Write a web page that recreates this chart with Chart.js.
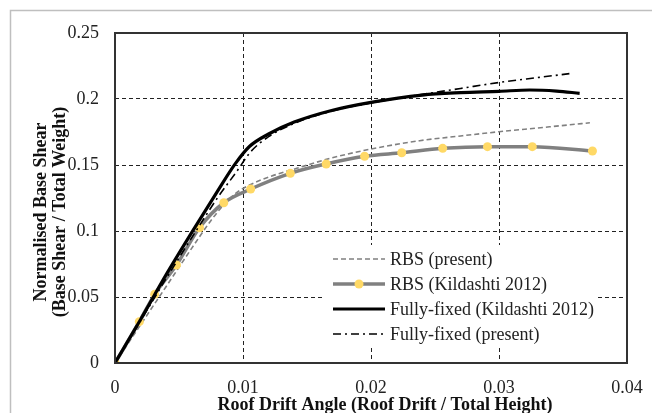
<!DOCTYPE html>
<html>
<head>
<meta charset="utf-8">
<script src="https://cdn.jsdelivr.net/npm/chart.js@4.4.1/dist/chart.umd.min.js"></script>
<style>
  html, body { margin: 0; padding: 0; background: #fff; }
  #wrap { width: 652px; height: 413px; position: relative; }
</style>
</head>
<body>
<div id="wrap"><canvas id="c" width="652" height="413"></canvas></div>
<script>
// ---- Data ----
const seriesNames = ['RBS (present)', 'RBS (Kildashti 2012)', 'Fully-fixed (Kildashti 2012)', 'Fully-fixed (present)'];

const rbsPresentX = [0, 0.002, 0.004, 0.006, 0.0075, 0.0086, 0.0095, 0.0105, 0.0122, 0.0142, 0.0168, 0.0199, 0.0238, 0.027, 0.030, 0.0335, 0.0371];
const rbsPresentY = [0, 0.029, 0.058, 0.087, 0.108, 0.121, 0.129, 0.1348, 0.1415, 0.1475, 0.155, 0.1619, 0.1684, 0.172, 0.1752, 0.1785, 0.182];

const rbsKildX = [0, 0.0019, 0.0031, 0.0048, 0.0066, 0.0085, 0.0106, 0.0137, 0.0165, 0.0195, 0.0224, 0.0256, 0.0291, 0.0326, 0.0373];
const rbsKildY = [0, 0.0313, 0.052, 0.0742, 0.1025, 0.1214, 0.1318, 0.1437, 0.1508, 0.1566, 0.1593, 0.1626, 0.1639, 0.1639, 0.1606];

const ffKildX = [0, 0.002, 0.004, 0.006, 0.008, 0.0094, 0.0105, 0.012, 0.014, 0.017, 0.020, 0.024, 0.027, 0.030, 0.0324, 0.0345, 0.0363];
const ffKildY = [0, 0.033, 0.067, 0.099, 0.130, 0.151, 0.164, 0.1735, 0.1825, 0.1915, 0.1975, 0.2030, 0.2048, 0.2058, 0.2068, 0.2060, 0.2043];

const ffPresX = [0, 0.002, 0.004, 0.006, 0.008, 0.0095, 0.0106, 0.012, 0.014, 0.017, 0.020, 0.024, 0.027, 0.030, 0.033, 0.0355];
const ffPresY = [0, 0.032, 0.064, 0.095, 0.125, 0.145, 0.160, 0.1715, 0.1815, 0.1910, 0.1970, 0.2035, 0.2080, 0.2125, 0.2162, 0.2192];

const xTicks = [0, 0.01, 0.02, 0.03, 0.04];
const xTickLabels = ['0', '0.01', '0.02', '0.03', '0.04'];
const yTicks = [0, 0.05, 0.1, 0.15, 0.2, 0.25];
const yTickLabels = ['0', '0.05', '0.1', '0.15', '0.2', '0.25'];

const xTitle = 'Roof Drift Angle (Roof Drift / Total Height)';
const yTitle = ['Normalised Base Shear', '(Base Shear / Total Weight)'];

// ---- Helpers ----
function pts(xs, ys) { return xs.map((x, i) => ({ x: x, y: ys[i] })); }
function labelFor(values, labels, v) {
  for (let i = 0; i < values.length; i++) if (Math.abs(values[i] - v) < 1e-9) return labels[i];
  return '';
}

const SERIF = "'Liberation Serif', 'Times New Roman', serif";
const GRAY = '#808080';
const YELLOW = '#FFD966';

const styles = [
  { borderColor: GRAY, borderWidth: 1.6, borderDash: [5, 3], pointRadius: 0 },
  { borderColor: GRAY, borderWidth: 3.5, pointRadius: 4.5, pointBackgroundColor: YELLOW, pointBorderWidth: 0 },
  { borderColor: '#000', borderWidth: 3.2, pointRadius: 0 },
  { borderColor: '#000', borderWidth: 1.6, borderDash: [8, 4, 2, 4], pointRadius: 0 }
];

const datasets = [
  pts(rbsPresentX, rbsPresentY),
  pts(rbsKildX, rbsKildY),
  pts(ffKildX, ffKildY),
  pts(ffPresX, ffPresY)
].map((d, i) => Object.assign({
  label: seriesNames[i],
  data: d,
  showLine: true,
  fill: false,
  cubicInterpolationMode: 'monotone',
  pointHoverRadius: 0,
  order: [3, 2, 0, 1][i]
}, styles[i]));

// Outer frame + plot frame + custom legend + axis titles
const framePlugin = {
  id: 'frames',
  beforeDraw(chart) {
    const ctx = chart.ctx;
    ctx.save();
    ctx.fillStyle = '#fff';
    ctx.fillRect(0, 0, chart.width, chart.height);
    ctx.strokeStyle = '#bfbfbf';
    ctx.lineWidth = 1.5;
    ctx.strokeRect(10.5, 10.5, 800, 600);
    ctx.restore();
  },
  afterDatasetsDraw(chart) {
    const ctx = chart.ctx;
    const a = chart.chartArea;
    ctx.save();
    // legend box
    const bx = 323, by = 245, bw = 272, bh = 103;
    ctx.fillStyle = '#fff';
    ctx.fillRect(bx, by, bw, bh);
    const rows = [259, 284, 309, 334];
    const x0 = 333, x1 = 385;
    ctx.font = '18px ' + SERIF;
    ctx.textBaseline = 'middle';
    ctx.textAlign = 'left';
    rows.forEach((y, i) => {
      const s = styles[i];
      ctx.beginPath();
      ctx.setLineDash(s.borderDash || []);
      ctx.strokeStyle = s.borderColor;
      ctx.lineWidth = s.borderWidth;
      ctx.moveTo(x0, y);
      ctx.lineTo(x1, y);
      ctx.stroke();
      ctx.setLineDash([]);
      if (s.pointRadius) {
        ctx.beginPath();
        ctx.fillStyle = YELLOW;
        ctx.arc((x0 + x1) / 2, y, s.pointRadius, 0, Math.PI * 2);
        ctx.fill();
      }
      ctx.fillStyle = '#222';
      ctx.fillText(seriesNames[i], 390, y + 1);
    });
    // plot frame
    ctx.setLineDash([]);
    ctx.strokeStyle = '#333';
    ctx.lineWidth = 2;
    ctx.strokeRect(a.left, a.top, a.right - a.left, a.bottom - a.top);
    ctx.restore();
  },
  afterDraw(chart) {
    const ctx = chart.ctx;
    ctx.save();
    ctx.fillStyle = '#111';
    ctx.font = 'bold 18px ' + SERIF;
    ctx.textAlign = 'center';
    ctx.textBaseline = 'middle';
    ctx.fillText(xTitle, 385, 405);
    ctx.translate(0, 212);
    ctx.rotate(-Math.PI / 2);
    ctx.fillText(yTitle[0], 0, 41);
    ctx.fillText(yTitle[1], 0, 60);
    ctx.restore();
  }
};

new Chart(document.getElementById('c'), {
  type: 'scatter',
  data: { datasets: datasets },
  options: {
    responsive: false,
    animation: false,
    events: [],
    layout: { autoPadding: false, padding: { left: 0, top: 33, right: 25, bottom: 0 } },
    plugins: { legend: { display: false }, tooltip: { enabled: false } },
    scales: {
      x: {
        type: 'linear',
        min: 0, max: 0.04,
        afterFit(s) { s.height = 50; s.paddingLeft = 0; s.paddingRight = 0; },
        afterBuildTicks(s) { s.ticks = xTicks.map(v => ({ value: v })); },
        ticks: {
          padding: 14,
          maxRotation: 0,
          autoSkip: false,
          color: '#222',
          font: { family: SERIF, size: 18 },
          callback: v => labelFor(xTicks, xTickLabels, v)
        },
        grid: { color: '#222', lineWidth: 1, drawTicks: false },
        border: { display: false, dash: [4, 3] },
        title: { display: false }
      },
      y: {
        type: 'linear',
        min: 0, max: 0.25,
        afterFit(s) { s.width = 115; s.paddingTop = 0; s.paddingBottom = 0; },
        afterBuildTicks(s) { s.ticks = yTicks.map(v => ({ value: v })); },
        ticks: {
          padding: 16,
          color: '#222',
          font: { family: SERIF, size: 18 },
          callback: v => labelFor(yTicks, yTickLabels, v)
        },
        grid: { color: '#222', lineWidth: 1, drawTicks: false },
        border: { display: false, dash: [4, 3] },
        title: { display: false }
      }
    }
  },
  plugins: [framePlugin]
});
</script>
</body>
</html>
